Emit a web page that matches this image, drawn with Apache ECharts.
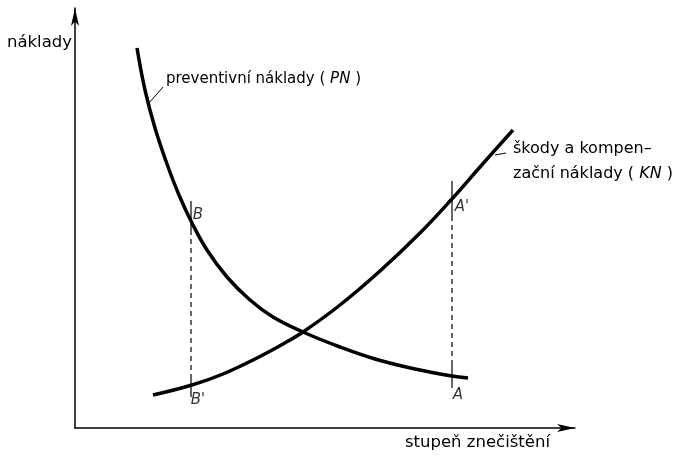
<!DOCTYPE html>
<html>
<head>
<meta charset="utf-8">
<style>
  html, body { margin: 0; padding: 0; background: #fff; }
  #main { width: 677px; height: 456px; }
</style>
<script src="https://cdn.jsdelivr.net/npm/echarts@6/dist/echarts.min.js"></script>
</head>
<body>
<div id="main"></div>
<script>
// preventivni naklady (PN) - klesajici krivka
var pnX = [62, 70, 80, 92, 104, 117, 132, 152, 175, 198, 228, 265, 300, 340, 377, 393];
var pnY = [380, 338, 300, 264, 233, 205, 178, 151, 128, 111, 96, 81, 69, 59, 52, 50];
// skody a kompenzacni naklady (KN) - rostouci krivka
var knX = [78, 117, 148, 182, 208, 228, 265, 305, 345, 376, 405, 438];
var knY = [33, 43, 54, 70, 84, 96, 123, 157, 195, 228, 261, 298];

// svisle pomocne cary v bodech B a A
var bX = 116;
var bSolidTop = [196, 227];
var bDash = [49, 196];
var bSolidBottom = [31, 49];
var aX = 377;
var aSolidTop = [210, 247];
var aDash = [63, 210];
var aSolidBottom = [40, 63];

// popisky bodu
var pointLabels = [
  { name: 'B', value: [123, 213] },
  { name: "B'", value: [123, 28] },
  { name: "A'", value: [387, 221] },
  { name: 'A', value: [383, 33] }
];

// odkazove carky k popiskum krivek
var pnLeader = [[74, 325], [88, 341]];
var knLeader = [[420, 273], [431, 275]];

var font = 'DejaVu Sans';

function zip (xs, ys) {
  var out = [];
  for (var i = 0; i < xs.length; i++) out.push([xs[i], ys[i]]);
  return out;
}

function vline (x, range, dashed) {
  return {
    type: 'line',
    data: [[x, range[0]], [x, range[1]]],
    symbol: 'none',
    silent: true,
    lineStyle: { color: '#000', width: 1.2, type: dashed ? [5, 4] : 'solid' }
  };
}

function leader (points, text, size) {
  return {
    type: 'line',
    data: points,
    symbol: 'circle',
    symbolSize: 0,
    showSymbol: true,
    silent: true,
    lineStyle: { color: '#000', width: 1 },
    itemStyle: { color: '#000' },
    label: {
      show: true,
      position: 'right',
      distance: 3,
      formatter: function (p) {
        return p.dataIndex === 1 ? text : '';
      },
      color: '#000',
      fontSize: size,
      lineHeight: 25,
      fontFamily: font,
      rich: { i: { fontStyle: 'italic', fontSize: size, lineHeight: 25, fontFamily: font, color: '#000' } }
    }
  };
}

var myChart = echarts.init(document.getElementById('main'));

var pnLead = leader(pnLeader, 'preventivní náklady ( {i|PN} )', 15);
pnLead.label.offset = [0, -8];
var knLead = leader(knLeader, 'škody a kompen–\nzační náklady ( {i|KN} )', 16);
knLead.label.offset = [0, 8];
knLead.label.distance = 7;

var option = {
  backgroundColor: '#fff',
  animation: false,
  grid: { left: 75, right: 102, top: 8, bottom: 28 },
  xAxis: {
    type: 'value',
    min: 0,
    max: 500,
    name: 'stupeň znečištění',
    nameLocation: 'end',
    nameGap: -25,
    nameTextStyle: { color: '#000', fontSize: 16.5, fontFamily: font, align: 'right', verticalAlign: 'top', padding: [6, 0, 0, 0] },
    axisLine: { lineStyle: { color: '#000', width: 1.5 }, symbol: ['none', 'arrow'], symbolSize: [6, 18] },
    axisTick: { show: false },
    axisLabel: { show: false },
    splitLine: { show: false }
  },
  yAxis: {
    type: 'value',
    min: 0,
    max: 420,
    name: 'náklady',
    nameLocation: 'end',
    nameGap: -35,
    nameTextStyle: { color: '#000', fontSize: 16.5, fontFamily: font, align: 'right', verticalAlign: 'middle', padding: [0, 3, 0, 0] },
    axisLine: { lineStyle: { color: '#000', width: 1.5 }, symbol: ['none', 'arrow'], symbolSize: [6, 18] },
    axisTick: { show: false },
    axisLabel: { show: false },
    splitLine: { show: false }
  },
  series: [
    {
      name: 'PN',
      type: 'line',
      smooth: 0.4,
      symbol: 'none',
      data: zip(pnX, pnY),
      lineStyle: { color: '#000', width: 3.5 }
    },
    {
      name: 'KN',
      type: 'line',
      smooth: 0.4,
      symbol: 'none',
      data: zip(knX, knY),
      lineStyle: { color: '#000', width: 3.5 }
    },
    vline(bX, bSolidTop, false),
    vline(bX, bDash, true),
    vline(bX, bSolidBottom, false),
    vline(aX, aSolidTop, false),
    vline(aX, aDash, true),
    vline(aX, aSolidBottom, false),
    pnLead,
    knLead,
    {
      type: 'scatter',
      data: pointLabels,
      symbolSize: 0,
      silent: true,
      label: {
        show: true,
        position: 'inside',
        formatter: '{b}',
        color: '#000',
        fontSize: 15,
        fontStyle: 'italic',
        fontFamily: font
      }
    }
  ]
};

myChart.setOption(option);
</script>
</body>
</html>
